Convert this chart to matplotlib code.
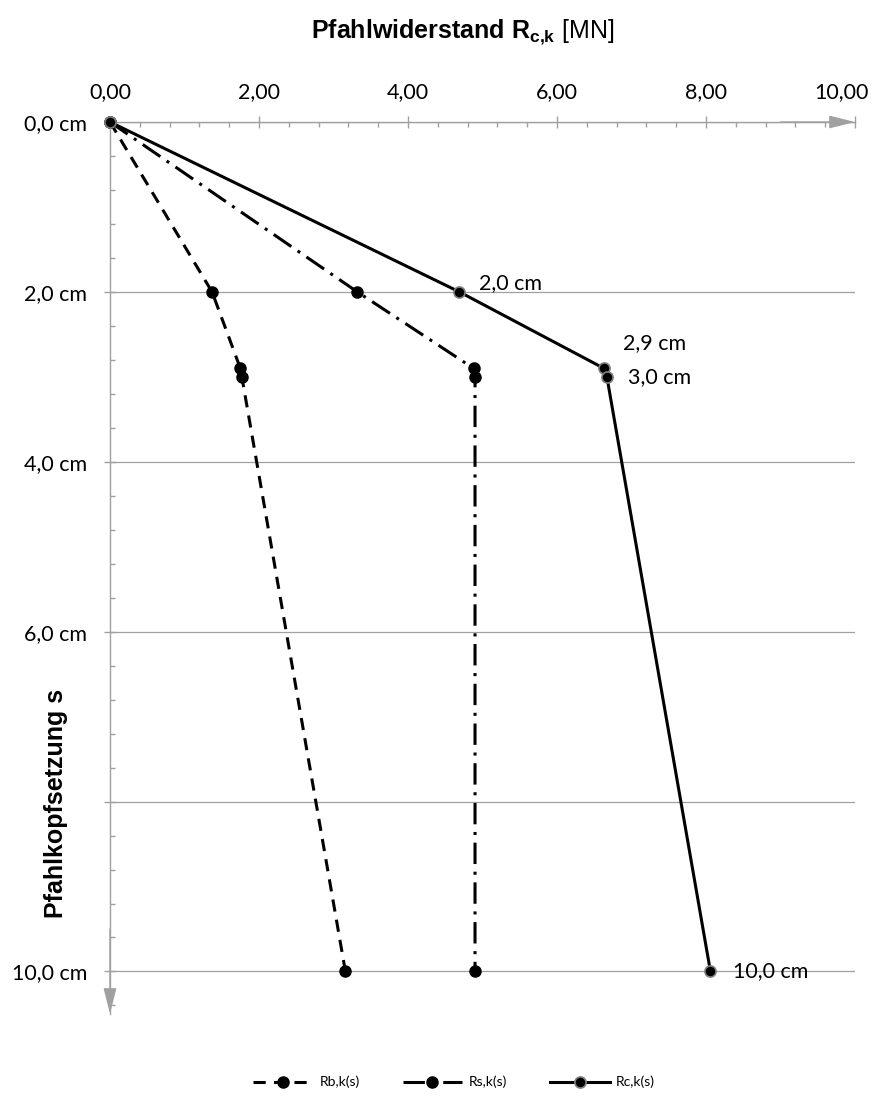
import matplotlib
matplotlib.use("Agg")
from matplotlib import pyplot as plt
from matplotlib.ticker import MultipleLocator, FixedLocator
from matplotlib.transforms import ScaledTranslation

# settlement s [cm] and pile resistances [MN]
settlement = [0.0, 2.0, 2.9, 3.0, 10.0]
rb = [0.0, 1.37, 1.75, 1.77, 3.16]
rs = [0.0, 3.32, 4.88, 4.90, 4.90]
rc = [0.0, 4.69, 6.63, 6.67, 8.06]

x_ticks = [0, 2, 4, 6, 8, 10]
x_tick_labels = ["0,00", "2,00", "4,00", "6,00", "8,00", "10,00"]
y_ticks = [0, 2, 4, 6, 8, 10]
y_tick_labels = ["0,0 cm", "2,0 cm", "4,0 cm", "6,0 cm", "", "10,0 cm"]

# labelled Rc points: settlement, offset in points
rc_labels = [(2.0, (14, 6.5)), (2.9, (14, 18)), (3.0, (15, 0)), (10.0, (16, 0))]

plt.rcParams['mathtext.fontset'] = 'custom'
plt.rcParams['mathtext.rm'] = 'Liberation Sans'
plt.rcParams['mathtext.bf'] = 'Liberation Sans:bold'
plt.rcParams['mathtext.it'] = 'Liberation Sans:italic'

grey = '#A0A0A0'
tick_font = 'Lato'
fs = 15.5

fig = plt.figure(figsize=(8.75, 11.02), dpi=100)
ax = fig.add_axes([0.1257, 0.0799, 0.8514, 0.8094])

ax.plot(rb, settlement, color='black', lw=2.2, ls=(0, (4, 2.7)),
        marker='o', ms=8, mfc='black', mec='black', clip_on=False, zorder=4,
        label='Rb,k(s)')
ax.plot(rs, settlement, color='black', lw=2.2, ls=(0, (7, 2.5, 1, 2.5)),
        marker='o', ms=8, mfc='black', mec='black', clip_on=False, zorder=4,
        label='Rs,k(s)')
ax.plot(rc, settlement, color='black', lw=2.2, ls='-',
        marker='o', ms=8, mfc='black', mec='#808080', mew=1.2,
        clip_on=False, zorder=5, label='Rc,k(s)')

for s, off in rc_labels:
    i = settlement.index(s)
    ax.annotate(f"{s:.1f} cm".replace('.', ','), xy=(rc[i], s),
                xytext=off, textcoords='offset points',
                ha='left', va='center', fontsize=fs, family=tick_font,
                color='black', zorder=6)

ax.set_xlim(0, 10)
ax.set_ylim(10.5, 0)

ax.xaxis.tick_top()
ax.xaxis.set_label_position('top')
ax.set_xticks(x_ticks)
ax.set_xticklabels(x_tick_labels)
ax.xaxis.set_minor_locator(MultipleLocator(0.4))
ax.yaxis.set_major_locator(FixedLocator(y_ticks))
ax.set_yticklabels(y_tick_labels)
ax.yaxis.set_minor_locator(MultipleLocator(0.4))

ax.tick_params(which='major', direction='inout', length=9, width=1,
               color=grey, labelsize=fs, pad=10)
ax.tick_params(axis='y', which='major', pad=12)
ax.tick_params(which='minor', direction='in', length=3.6, width=1, color=grey)
for lab in ax.get_xticklabels() + ax.get_yticklabels():
    lab.set_family(tick_font)

# last x label is pulled inside the figure, as in the original
last = ax.get_xticklabels()[-1]
last.set_transform(last.get_transform() +
                   ScaledTranslation(-0.13, 0, fig.dpi_scale_trans))

ax.grid(axis='y', which='major', color=grey, lw=0.9)
ax.set_axisbelow(True)

for side in ['right', 'bottom']:
    ax.spines[side].set_visible(False)
for side in ['top', 'left']:
    ax.spines[side].set_color(grey)
    ax.spines[side].set_linewidth(1)

# axis arrows
arrow = dict(arrowstyle='-|>,head_length=0.8,head_width=0.2',
             mutation_scale=20, color=grey, lw=1, shrinkA=0, shrinkB=0)
ax.annotate('', xy=(10, 0), xytext=(9, 0), arrowprops=arrow,
            annotation_clip=False)
ax.annotate('', xy=(0, 10.5), xytext=(0, 9.5), arrowprops=arrow,
            annotation_clip=False)

fig.text(0.529, 0.971, r"$\mathbf{Pfahlwiderstand\ R_{c{,}k}}$ [MN]",
         ha='center', va='center', fontsize=18, family='Liberation Sans')
fig.text(0.064, 0.271, "Pfahlkopfsetzung s", rotation=90,
         ha='center', va='center', fontsize=18, fontweight='bold',
         family='Liberation Sans')

fig.legend(loc='center', bbox_to_anchor=(0.519, 0.018), ncol=3,
           frameon=False, prop={'family': tick_font, 'size': 10},
           handlelength=4.3, handletextpad=0.45, columnspacing=3.1)

fig.savefig('out.png', dpi=100)
